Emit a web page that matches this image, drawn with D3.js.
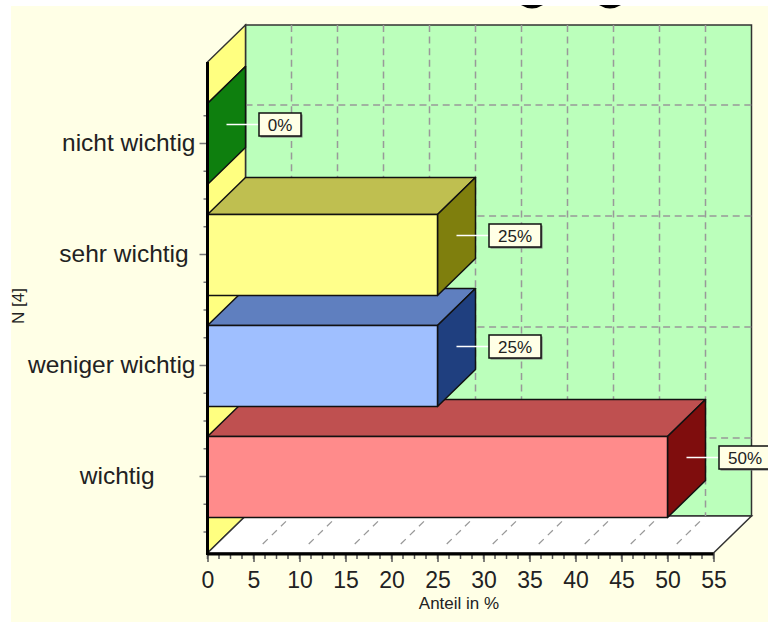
<!DOCTYPE html>
<html>
<head>
<meta charset="utf-8">
<script src="https://cdn.jsdelivr.net/npm/d3@7"></script>
<style>
html, body { margin: 0; padding: 0; background: #fff; }
svg { display: block; font-family: "Liberation Sans", Arial, sans-serif; }
text { white-space: pre; }
</style>
</head>
<body>
<svg width="768" height="622"></svg>
<script>
// bottom to top, trailing spaces come from the original labels
const categories = ["wichtig      ", "weniger wichtig", "sehr wichtig ", "nicht wichtig"];
const shares = [50, 25, 25, 0];
const frontColors = ["#ff8b8b", "#9fbfff", "#ffff8b", "#11ff11"];
const topColors = ["#bf5050", "#5f7fbf", "#bfbf50", "#0e7f0e"];
const sideColors = ["#7f0d0d", "#1f3f7f", "#7f7f0d", "#0e7f0e"];
const xTicks = [0, 5, 10, 15, 20, 25, 30, 35, 40, 45, 50, 55];
const xMax = 55;
const minorStep = 1.25;

const svg = d3.select("svg");
const depth = { x: 38, y: -37 };
const left = 207.5, right = 713.5, floorY = 553, wallTop = 62;

const xScale = d3.scaleLinear().domain([0, xMax]).range([left, right]);
const yScale = d3.scaleBand()
	.domain(categories)
	.range([532.5, 88.5])
	.paddingInner(0.27)
	.paddingOuter(0.135);
const yCenter = c => yScale(c) + yScale.bandwidth() / 2;

const poly = pts => pts.map(p => p.join(",")).join(" ");
const back = ([x, y]) => [x + depth.x, y + depth.y];

// chart background
svg.append("rect").attr("x", 11).attr("y", 6).attr("width", 757).attr("height", 616)
	.attr("fill", "#ffffe6");

// remains of the cut off title
[532, 610].forEach(cx => {
	svg.append("path")
		.attr("d", `M${cx - 11},5 Q${cx},12 ${cx + 11},5 Z`)
		.attr("fill", "#000");
});

const outline = "#333";

// back wall, side wall, floor
svg.append("rect")
	.attr("x", left + depth.x).attr("y", wallTop + depth.y)
	.attr("width", right - left).attr("height", floorY - wallTop)
	.attr("fill", "#bbffbb").attr("stroke", outline).attr("stroke-width", 1.5);
svg.append("polygon")
	.attr("points", poly([[left, floorY], back([left, floorY]), back([left, wallTop]), [left, wallTop]]))
	.attr("fill", "#ffff80").attr("stroke", outline).attr("stroke-width", 1.5);
svg.append("polygon")
	.attr("points", poly([[left, floorY], [right, floorY], back([right, floorY]), back([left, floorY])]))
	.attr("fill", "#fff").attr("stroke", outline).attr("stroke-width", 1.5);

// grid on the walls and floor
const grid = svg.append("g").attr("fill", "none");
grid.selectAll(".gridV").data(xTicks.slice(1, -1)).enter().append("line")
	.attr("x1", d => xScale(d) + depth.x).attr("x2", d => xScale(d) + depth.x)
	.attr("y1", wallTop + depth.y).attr("y2", floorY + depth.y)
	.attr("stroke", "#999").attr("stroke-width", 1.5).attr("stroke-dasharray", "7,4.6");
grid.selectAll(".gridH").data(categories).enter().append("line")
	.attr("x1", left + depth.x).attr("x2", right + depth.x)
	.attr("y1", d => yCenter(d) + depth.y - 2).attr("y2", d => yCenter(d) + depth.y - 2)
	.attr("stroke", "#999").attr("stroke-width", 1.5).attr("stroke-dasharray", "7,4.6");
grid.selectAll(".gridF").data(xTicks.slice(1, -1)).enter().append("line")
	.attr("x1", d => xScale(d)).attr("x2", d => xScale(d) + depth.x)
	.attr("y1", floorY).attr("y2", floorY + depth.y)
	.attr("stroke", "#999").attr("stroke-width", 1.3)
	.attr("stroke-dasharray", "0,12.9,7,5.7,7,5.7,7,100");

// bars, lowest first so the upper fronts cover the lower tops
const bars = svg.append("g").selectAll("g")
	.data(categories.map((c, i) => ({ c, i, v: shares[i] })))
	.enter().append("g")
	.attr("stroke", "#111").attr("stroke-width", 1.5).attr("stroke-linejoin", "round");

const corners = d => {
	const t = yScale(d.c), b = t + yScale.bandwidth(), x = xScale(d.v);
	return { t, b, x };
};
bars.append("polygon")
	.attr("fill", d => topColors[d.i])
	.attr("points", d => {
		const { t, x } = corners(d);
		return poly([[left, t], [x, t], back([x, t]), back([left, t])]);
	});
bars.append("polygon")
	.attr("fill", d => sideColors[d.i])
	.attr("points", d => {
		const { t, b, x } = corners(d);
		return poly([[x, t], back([x, t]), back([x, b]), [x, b]]);
	});
bars.append("rect")
	.attr("x", left)
	.attr("y", d => yScale(d.c))
	.attr("width", d => xScale(d.v) - left)
	.attr("height", yScale.bandwidth())
	.attr("fill", d => frontColors[d.i]);

// value labels with leader
const labels = svg.append("g").selectAll("g")
	.data(categories.map((c, i) => ({ c, i, v: shares[i] })))
	.enter().append("g")
	.attr("transform", d => `translate(${xScale(d.v) + depth.x / 2},${yCenter(d.c) + depth.y / 2 - 1})`);
labels.append("line")
	.attr("x1", 0).attr("x2", 32).attr("y1", 0).attr("y2", 0)
	.attr("stroke", "#fff").attr("stroke-width", 1.5);
const boxW = d => d.v < 10 ? 42 : 52;
labels.append("rect")
	.attr("x", 34).attr("y", -10).attr("width", boxW).attr("height", 23)
	.attr("fill", "#777");
labels.append("rect")
	.attr("x", 32.5).attr("y", -11.5).attr("width", boxW).attr("height", 23)
	.attr("fill", "#ffffe6").attr("stroke", "#111").attr("stroke-width", 1.5);
labels.append("text")
	.attr("x", d => 32.5 + boxW(d) / 2).attr("y", 6)
	.attr("text-anchor", "middle")
	.attr("font-size", 17).attr("fill", "#222")
	.text(d => d.v + "%");

// axes
const xAxis = d3.axisBottom(xScale).tickValues(xTicks).tickSize(9).tickPadding(10);
const xAxisGroup = svg.append("g")
	.attr("transform", `translate(0,${floorY})`)
	.call(xAxis);
xAxisGroup.select(".domain").remove();
xAxisGroup.selectAll("line").attr("stroke", "#555").attr("stroke-width", 1.5);
xAxisGroup.selectAll("text")
	.attr("font-family", "Liberation Sans").attr("font-size", 23).attr("fill", "#222");

const yAxis = d3.axisLeft(yScale).tickSize(7).tickPadding(4);
const yAxisGroup = svg.append("g")
	.attr("transform", `translate(${left - 1},-0.5)`)
	.call(yAxis);
yAxisGroup.select(".domain").remove();
yAxisGroup.selectAll("line").attr("stroke", "#777").attr("stroke-width", 1.5);
yAxisGroup.selectAll("text")
	.attr("font-family", "Liberation Sans").attr("font-size", 24.5).attr("fill", "#222");

// minor ticks
svg.append("g").selectAll("line").data(d3.range(0, xMax + minorStep, minorStep)).enter().append("line")
	.attr("x1", d => xScale(d)).attr("x2", d => xScale(d))
	.attr("y1", floorY).attr("y2", floorY + 6)
	.attr("stroke", "#555").attr("stroke-width", 1.5);
const yQuarter = yScale.step() / 4;
const yMinor = categories.flatMap(c => [-1, 1, 2].map(k => yCenter(c) + k * yQuarter - 0.5));
svg.append("g").selectAll("line").data(yMinor).enter().append("line")
	.attr("x1", left - 4).attr("x2", left)
	.attr("y1", d => d).attr("y2", d => d)
	.attr("stroke", "#777").attr("stroke-width", 1.5);

// thick front edges
svg.append("line").attr("x1", left).attr("x2", left).attr("y1", wallTop).attr("y2", floorY + 2)
	.attr("stroke", "#000").attr("stroke-width", 3);
svg.append("line").attr("x1", left).attr("x2", right).attr("y1", floorY + 1).attr("y2", floorY + 1)
	.attr("stroke", "#000").attr("stroke-width", 3);

// axis titles
svg.append("text")
	.attr("x", 459).attr("y", 609)
	.attr("text-anchor", "middle").attr("font-size", 17).attr("fill", "#222")
	.text("Anteil in %");
svg.append("text")
	.attr("transform", "translate(24,306) rotate(-90)")
	.attr("text-anchor", "middle").attr("font-size", 17).attr("fill", "#222")
	.text("N [4]");
</script>
</body>
</html>
